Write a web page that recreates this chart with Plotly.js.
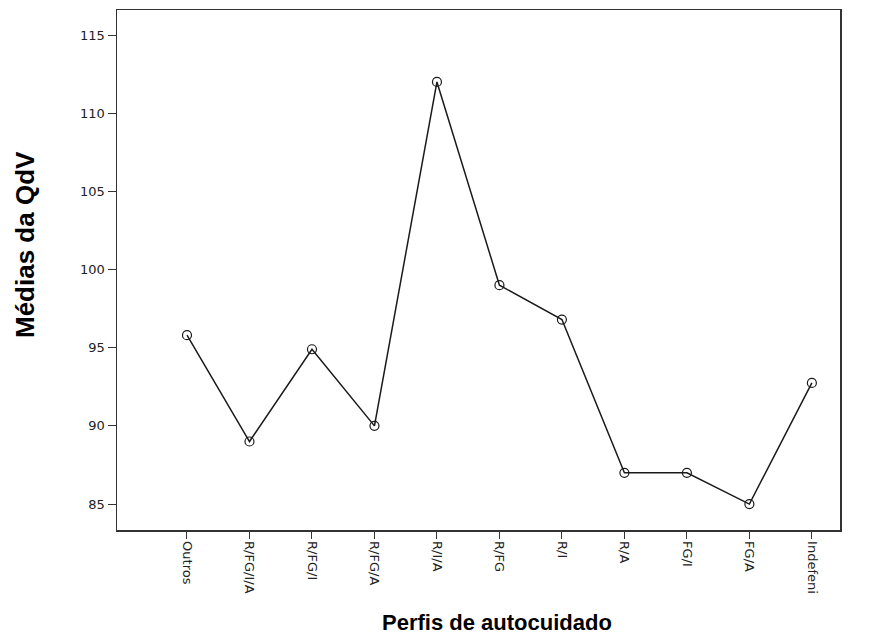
<!DOCTYPE html>
<html>
<head>
<meta charset="utf-8">
<script src="https://cdn.plot.ly/plotly-3.0.1.min.js"></script>
<style>html,body{margin:0;padding:0;background:#fff;}#chart{width:871px;height:634px;}</style>
</head>
<body>
<div id="chart"></div>
<script>
const categories = ["Outros","R/FG/I/A","R/FG/I","R/FG/A","R/I/A","R/FG","R/I","R/A","FG/I","FG/A","Indefeni"];
const means = [95.8, 89.0, 94.9, 90.0, 112.0, 99.0, 96.8, 87.0, 87.0, 85.0, 92.75];
const yTicks = [85, 90, 95, 100, 105, 110, 115];
const xTitle = 'Perfis de autocuidado';
const yTitle = 'Médias da QdV';

const idx = categories.map((c, i) => i);

Plotly.newPlot('chart', [{
  x: idx,
  y: means,
  type: 'scatter',
  mode: 'lines+markers',
  line: {color: '#1a1a1a', width: 1.5},
  marker: {symbol: 'circle-open', size: 9, color: '#1a1a1a', line: {width: 1.2, color: '#1a1a1a'}},
  hoverinfo: 'x+y'
}], {
  width: 871, height: 634,
  margin: {l: 117, r: 31, t: 10, b: 104},
  paper_bgcolor: '#ffffff', plot_bgcolor: '#ffffff',
  showlegend: false,
  font: {family: 'DejaVu Sans, Arial, sans-serif', color: '#222'},
  xaxis: {
    range: [-1.12, 10.45],
    tickmode: 'array', tickvals: idx, ticktext: categories,
    tickangle: 90,
    ticks: 'outside', ticklen: 7, tickwidth: 1, tickcolor: '#333',
    showline: true, linecolor: '#333', linewidth: 1.5, mirror: true,
    showgrid: false, zeroline: false,
    tickfont: {family: 'DejaVu Sans, sans-serif', size: 13, color: '#222'}
  },
  yaxis: {
    range: [83.34, 116.6],
    tickmode: 'array', tickvals: yTicks,
    ticks: 'outside', ticklen: 8, tickwidth: 1, tickcolor: '#333',
    showline: true, linecolor: '#333', linewidth: 1.5, mirror: true,
    showgrid: false, zeroline: false,
    tickfont: {family: 'DejaVu Sans, sans-serif', size: 13, color: '#222'}
  },
  annotations: [
    {text: xTitle, xref: 'paper', yref: 'paper', x: (497 - 117) / 723, y: -(622 - 530) / 520,
     xanchor: 'center', yanchor: 'middle', showarrow: false,
     font: {family: 'Liberation Sans, Arial, sans-serif', size: 22, color: '#000', weight: 'bold'}},
    {text: yTitle, xref: 'paper', yref: 'paper', x: -(117 - 25) / 723, y: (530 - 245) / 520,
     xanchor: 'center', yanchor: 'middle', showarrow: false, textangle: -90,
     font: {family: 'Liberation Sans, Arial, sans-serif', size: 26, color: '#000', weight: 'bold'}}
  ]
}, {displayModeBar: false, staticPlot: true});
</script>
</body>
</html>
